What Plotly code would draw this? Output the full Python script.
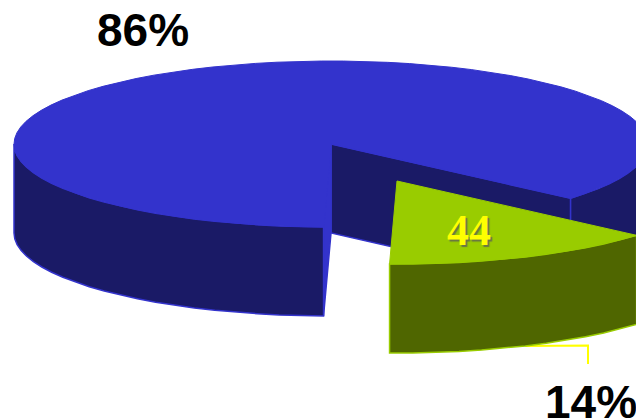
import math
import plotly.graph_objects as go

# Slice data
categories = ["Other", "Selected"]
values = [270, 44]
value_labels = ["", "44"]

# Fake-3D pie geometry, in page pixels
WIDTH, HEIGHT = 636, 420
RX, RY, DEPTH = 317, 83, 89
START_DEG = 40.9
CENTER_MAIN = (331, 144)
CENTER_SLICE = (397, 181)
STEP_DEG = 4

BLUE_TOP, BLUE_SIDE = "#3333CC", "#1A1A66"
GREEN_TOP, GREEN_SIDE = "#99CC00", "#4F6600"
LEADER = "#FFFF00"

total = sum(values)
sweep = 360 * values[1] / total
slice_from, slice_to = START_DEG, START_DEG + sweep


def rim(center, a0, a1, drop=0):
    """Points along the elliptical rim between two angles (clockwise on screen)."""
    n = max(1, int(abs(a1 - a0) / STEP_DEG))
    xs, ys = [], []
    for i in range(n + 1):
        a = math.radians(a0 + (a1 - a0) * i / n)
        xs.append(center[0] + RX * math.cos(a))
        ys.append(center[1] + RY * math.sin(a) + drop)
    return xs, ys


def poly(xs, ys, fill, edge, width=1.5):
    return go.Scatter(x=xs, y=ys, mode="lines", fill="toself", fillcolor=fill,
                      line=dict(color=edge, width=width), hoverinfo="skip", showlegend=False)


def outer_wall(center, a0, a1, fill, edge):
    tx, ty = rim(center, a0, a1)
    bx, by = rim(center, a0, a1, DEPTH)
    return poly(tx + bx[::-1] + tx[:1], ty + by[::-1] + ty[:1], fill, edge)


def inner_wall(center, angle, fill, edge):
    xs, ys = rim(center, angle, angle)
    ex, ey = xs[0], ys[0]
    cx, cy = center
    return poly([cx, ex, ex, cx, cx], [cy, ey, ey + DEPTH, cy + DEPTH, cy], fill, edge)


def top_face(center, a0, a1, fill):
    xs, ys = rim(center, a0, a1)
    return poly([center[0]] + xs + [center[0]], [center[1]] + ys + [center[1]], fill, fill, 1)


fig = go.Figure()

# Large slice: cut faces, outer wall, then top
fig.add_trace(inner_wall(CENTER_MAIN, slice_from, BLUE_SIDE, BLUE_TOP))
fig.add_trace(inner_wall(CENTER_MAIN, slice_to, BLUE_TOP, BLUE_TOP))
fig.add_trace(outer_wall(CENTER_MAIN, -8, slice_from, BLUE_SIDE, BLUE_TOP))
fig.add_trace(outer_wall(CENTER_MAIN, slice_to, 180, BLUE_SIDE, BLUE_TOP))
fig.add_trace(top_face(CENTER_MAIN, slice_to, 360 + slice_from, BLUE_TOP))

# Leader line from the pulled-out slice to its percentage
mid = (slice_from + slice_to) / 2
lx, ly = rim(CENTER_SLICE, mid, mid, DEPTH)
fig.add_trace(go.Scatter(x=[lx[0], 588, 588], y=[ly[0], 345.5, 364], mode="lines",
                         line=dict(color=LEADER, width=2), hoverinfo="skip", showlegend=False))

# Pulled-out slice
fig.add_trace(outer_wall(CENTER_SLICE, slice_from, slice_to, GREEN_SIDE, GREEN_TOP))
fig.add_trace(top_face(CENTER_SLICE, slice_from, slice_to, GREEN_TOP))

percent_font = dict(family="Liberation Sans", size=46, color="#000000", weight="bold")
fig.add_annotation(x=143, y=30, text=f"{values[0] / total:.0%}", showarrow=False, font=percent_font)
fig.add_annotation(x=591, y=402, text=f"{values[1] / total:.0%}", showarrow=False, font=percent_font)
fig.add_annotation(x=469, y=230, text=value_labels[1], showarrow=False,
                   font=dict(family="Liberation Serif", size=44, color=LEADER, weight="bold",
                             shadow="2px 2px 1px rgba(90,90,90,0.75)"))

fig.update_xaxes(range=[0, WIDTH], visible=False, fixedrange=True)
fig.update_yaxes(range=[HEIGHT, 0], visible=False, fixedrange=True)
fig.update_layout(width=WIDTH, height=HEIGHT, margin=dict(l=0, r=0, t=0, b=0),
                  paper_bgcolor="white", plot_bgcolor="white", showlegend=False)

fig.write_html("out.html", config=dict(displayModeBar=False))
